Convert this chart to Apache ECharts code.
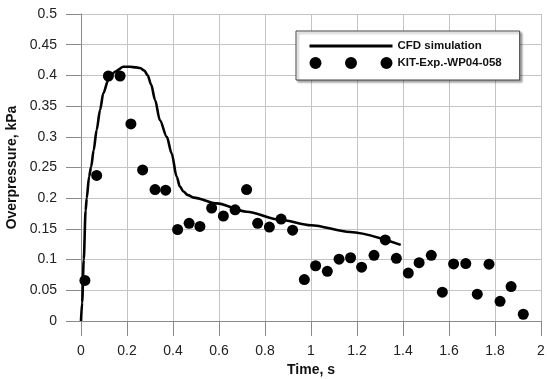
<!DOCTYPE html>
<html>
<head>
<meta charset="utf-8">
<script src="https://cdn.jsdelivr.net/npm/echarts@6/dist/echarts.min.js"></script>
<style>
  html, body { margin: 0; padding: 0; background: #fff; }
  #chart { width: 547px; height: 379px; }
</style>
</head>
<body>
<div id="chart"></div>
<script>
// CFD simulation: time (s) and overpressure (kPa)
const cfdTime = [0, 0.005, 0.012, 0.02, 0.025, 0.035, 0.044, 0.055, 0.068, 0.083, 0.097, 0.119, 0.148, 0.184, 0.213, 0.24, 0.257, 0.275, 0.29, 0.305, 0.322, 0.343, 0.373, 0.394, 0.416, 0.43, 0.445, 0.465, 0.49, 0.59, 0.72, 0.865, 1.0, 1.17, 1.39];
const cfdPressure = [0, 0.03, 0.1, 0.18, 0.2, 0.235, 0.251, 0.278, 0.311, 0.344, 0.371, 0.393, 0.406, 0.414, 0.414, 0.413, 0.412, 0.408, 0.4, 0.385, 0.36, 0.327, 0.3, 0.273, 0.235, 0.219, 0.211, 0.205, 0.201, 0.1915, 0.178, 0.165, 0.156, 0.145, 0.124];

// Experiment KIT-Exp.-WP04-058: time (s) and overpressure (kPa)
const expTime = [0.017, 0.068, 0.119, 0.17, 0.217, 0.268, 0.322, 0.368, 0.42, 0.47, 0.517, 0.568, 0.619, 0.67, 0.72, 0.768, 0.819, 0.87, 0.92, 0.971, 1.02, 1.071, 1.122, 1.172, 1.22, 1.274, 1.323, 1.371, 1.423, 1.47, 1.523, 1.571, 1.62, 1.673, 1.723, 1.774, 1.822, 1.87, 1.923];
const expPressure = [0.066, 0.237, 0.399, 0.399, 0.321, 0.246, 0.214, 0.213, 0.149, 0.159, 0.154, 0.184, 0.171, 0.181, 0.214, 0.159, 0.153, 0.166, 0.148, 0.0675, 0.09, 0.081, 0.1007, 0.103, 0.0876, 0.107, 0.132, 0.102, 0.078, 0.095, 0.107, 0.047, 0.093, 0.0936, 0.0436, 0.0925, 0.032, 0.056, 0.011];

// Axis tick labels
const xTickLabels = ['0', '0.2', '0.4', '0.6', '0.8', '1', '1.2', '1.4', '1.6', '1.8', '2'];
const yTickLabels = ['0', '0.05', '0.1', '0.15', '0.2', '0.25', '0.3', '0.35', '0.4', '0.45', '0.5'];

const seriesNames = ['CFD simulation', 'KIT-Exp.-WP04-058'];
const xTitle = 'Time, s';
const yTitle = 'Overpressure, kPa';

const cfdData = cfdTime.map((t, i) => [t, cfdPressure[i]]);
const expData = expTime.map((t, i) => [t, expPressure[i]]);

// three-dot legend marker for the experimental series
const threeDots = 'path://M0,6a6,6 0 1,0 12,0a6,6 0 1,0 -12,0Z M35.5,6a6,6 0 1,0 12,0a6,6 0 1,0 -12,0Z M71,6a6,6 0 1,0 12,0a6,6 0 1,0 -12,0Z';

const FONT = 'Liberation Sans, Arial, sans-serif';
const gridColor = '#c4c4c4';
const axisColor = '#8a8a8a';

const chart = echarts.init(document.getElementById('chart'), null, { renderer: 'canvas' });
chart.setOption({
  animation: false,
  backgroundColor: '#fff',
  grid: { left: 81, top: 14, right: 6, bottom: 58, containLabel: false, outerBoundsMode: 'none' },
  legend: {
    orient: 'vertical',
    left: 296,
    top: 31,
    padding: [9, 18, 11, 12],
    itemGap: 5,
    itemWidth: 83,
    itemHeight: 12,
    backgroundColor: '#fff',
    borderColor: '#444',
    borderWidth: 1,
    shadowColor: 'rgba(0,0,0,0.35)',
    shadowOffsetX: 2,
    shadowOffsetY: 2,
    shadowBlur: 2,
    textStyle: { fontFamily: FONT, fontWeight: 'bold', fontSize: 11.5, color: '#111' },
    data: [
      { name: seriesNames[0], itemStyle: { opacity: 0 }, lineStyle: { width: 3, color: '#000' } },
      { name: seriesNames[1], icon: threeDots, itemStyle: { opacity: 1 } }
    ]
  },
  xAxis: {
    type: 'value',
    min: 0, max: 2, interval: 0.2,
    name: xTitle,
    nameLocation: 'middle',
    nameGap: 39,
    nameTextStyle: { fontFamily: FONT, fontWeight: 'bold', fontSize: 14, color: '#111' },
    axisLine: { show: true, onZero: false, lineStyle: { color: axisColor, width: 1 } },
    axisTick: { show: true, length: 15, lineStyle: { color: axisColor } },
    axisLabel: {
      margin: 23,
      fontFamily: FONT, fontSize: 14, color: '#222',
      formatter: (v) => xTickLabels[Math.round(v / 0.2)]
    },
    splitLine: { show: true, lineStyle: { color: gridColor, width: 1 } }
  },
  yAxis: {
    type: 'value',
    min: 0, max: 0.5, interval: 0.05,
    name: yTitle,
    nameLocation: 'middle',
    nameGap: 53,
    nameTextStyle: { fontFamily: FONT, fontWeight: 'bold', fontSize: 14, color: '#111' },
    axisLine: { show: true, lineStyle: { color: axisColor, width: 1 } },
    axisTick: { show: true, length: 15, lineStyle: { color: axisColor } },
    axisLabel: {
      margin: 24,
      fontFamily: FONT, fontSize: 14, color: '#222',
      formatter: (v) => yTickLabels[Math.round(v / 0.05)]
    },
    splitLine: { show: true, lineStyle: { color: gridColor, width: 1 } }
  },
  series: [
    {
      name: seriesNames[0],
      type: 'line',
      data: cfdData,
      symbol: 'none',
      smooth: 0.3,
      smoothMonotone: 'x',
      lineStyle: { color: '#000', width: 2.6 },
      itemStyle: { color: '#000' },
      z: 3
    },
    {
      name: seriesNames[1],
      type: 'scatter',
      data: expData,
      symbol: 'circle',
      symbolSize: 11,
      itemStyle: { color: '#000', opacity: 1 },
      z: 4
    }
  ]
});
</script>
</body>
</html>
